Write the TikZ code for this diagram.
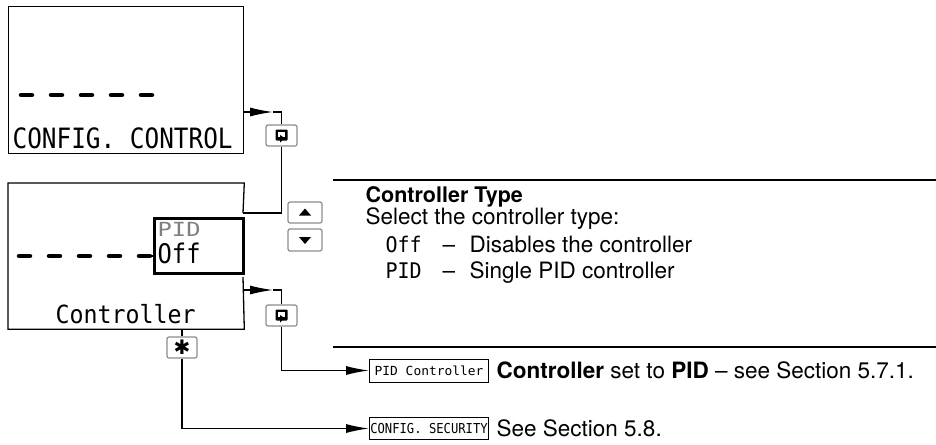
\documentclass[tikz,border=0pt]{standalone}
\usepackage{fontspec}
\usepackage{graphicx}
\setmainfont{TeX Gyre Heros}
\newfontfamily\lcdfont{DejaVu Sans Mono}
\newfontfamily\symfont{DejaVu Sans}
\usetikzlibrary{arrows.meta}
\newcommand\lcdtxt[4]{{\lcdfont\fontsize{#1}{#1}\selectfont\scalebox{#2}[#3]{#4}}}
\begin{document}
\begin{tikzpicture}[x=1pt,y=-1pt,line width=1.3pt,
  lcdbox/.style={draw=none,inner sep=0pt,anchor=north west},
  btn/.style={draw=black!45,fill=white,rounded corners=2pt,line width=1.2pt,minimum width=31pt,minimum height=21pt,inner sep=0pt},
  arr/.style={-{Latex[length=23pt,width=9pt]}},
  dsh/.style={line width=4.5pt,line cap=round},
  txt/.style={anchor=base west,inner sep=0pt,font=\fontsize{22.5}{26}\selectfont},
  tag/.style={draw,line width=1pt,minimum width=119pt,inner sep=0pt,anchor=west}]
\useasboundingbox (0,0) rectangle (936,444);
% ---- top display
\node[draw,minimum width=235pt,minimum height=147pt,inner sep=0pt,anchor=north west] (box1) at (8,6) {};
\foreach \x in {21,51,81,111,141}{\draw[dsh] (\x,95) -- ++(11,0);}
\node[anchor=base west,inner sep=0pt] (t1txt) at (12,148) {\lcdtxt{28}{0.87}{1}{CONFIG. CONTROL}};
% ---- second display
\node[lcdbox,minimum width=235pt,minimum height=145pt] (box2) at (8,183) {};
\draw (243,213) -- (box2.north east) -- (box2.north west) -- (box2.south west) -- (box2.south east) -- (243,277);
\foreach \x in {19,49,79,109,139}{\draw[dsh] (\x,256) -- ++(11,0);}
\draw[line width=1.3pt] (150,256) -- (153,256);
\node[draw,line width=3pt,minimum width=89pt,minimum height=55pt,inner sep=0pt,anchor=north west] (sel) at (153,217) {};
\node[anchor=base west,inner sep=0pt,text=black!50] (pidg) at (157,236) {\lcdtxt{27}{0.88}{0.72}{PID}};
\node[anchor=base west,inner sep=0pt] (offt) at (157,263) {\lcdtxt{27}{0.88}{1}{Off}};
\node[anchor=base west,inner sep=0pt] (ctl) at (55,323) {\lcdtxt{25}{0.93}{1}{Controller}};
% ---- buttons
\node[btn] (b1) at (281.5,135.5) {};
\node[btn] (b2) at (281.5,315.5) {};
\node[btn,minimum width=34pt] (up) at (305,212.5) {};
\node[btn,minimum width=34pt,minimum height=22pt] (dn) at (305,240) {};
\node[btn,minimum width=30pt] (sb) at (182,347.5) {\symfont\fontsize{20}{20}\selectfont\char"2731};
\fill (up.center) ++(-6,3) -- ++(12,0) -- ++(-6,-7) -- cycle;
\fill (dn.center) ++(-6,-3) -- ++(12,0) -- ++(-6,7) -- cycle;
\foreach \b in {b1,b2}{
  \begin{scope}[shift={(\b.center)}]
    \fill[rounded corners=1pt] (-6,-6) rectangle (6,5);
    \fill[white] (-3.5,-3.5) rectangle (3.5,1.5);
    \fill (-1.5,-0.5) -- (3,2.5) -- (-1.5,7) -- cycle;
  \end{scope}}
% ---- connectors
\coordinate (a1) at (273,112);
\coordinate (s1) at (243,112);
\draw[arr] (s1) -- (a1);
\draw (a1) -| (b1.north);
\coordinate (j2) at (243,213);
\draw (b1.south) |- (j2);
\coordinate (a2) at (273,290);
\coordinate (s2) at (243,290);
\draw[arr] (s2) -- (a2);
\draw (a2) -| (b2.north);
\node[tag,minimum height=23pt] (pidbox) at (369,370.5) {\lcdtxt{12.5}{1.03}{1}{PID Controller}};
\node[tag,minimum height=22pt] (secbox) at (369,428.5) {\lcdtxt{13.7}{0.89}{1}{CONFIG. SECURITY}};
\draw[arr] (b2.south) |- (pidbox.west);
\draw (sb.north) -- (sb.north |- box2.south);
\draw[arr] (sb.south) |- (secbox.west);
% ---- rules
\coordinate (r1a) at (333,180); \coordinate (r1b) at (936,180);
\coordinate (r2a) at (333,347); \coordinate (r2b) at (936,347);
\draw (r1a) -- (r1b);
\draw (r2a) -- (r2b);
% ---- right texts
\node[txt,font=\fontsize{21.5}{26}\selectfont\bfseries] (h1) at (365,202) {Controller Type};
\node[txt] (h2) at (365,224) {Select the controller type:};
\node[anchor=base west,inner sep=0pt] (o1) at (385,252) {\lcdtxt{21.5}{0.93}{1}{Off}};
\node[txt] (o2) at (442,252) {–};
\node[txt] (o3) at (469,252) {Disables the controller};
\node[anchor=base west,inner sep=0pt] (p1) at (385,278) {\lcdtxt{21.5}{0.93}{1}{PID}};
\node[txt] (p2) at (442,278) {–};
\node[txt] (p3) at (469,278) {Single PID controller};
\node[txt] (c1) at (496,378) {\textbf{Controller} set to \textbf{PID} – see Section 5.7.1.};
\node[txt] (c2) at (496,436) {See Section 5.8.};
\end{tikzpicture}
\end{document}
